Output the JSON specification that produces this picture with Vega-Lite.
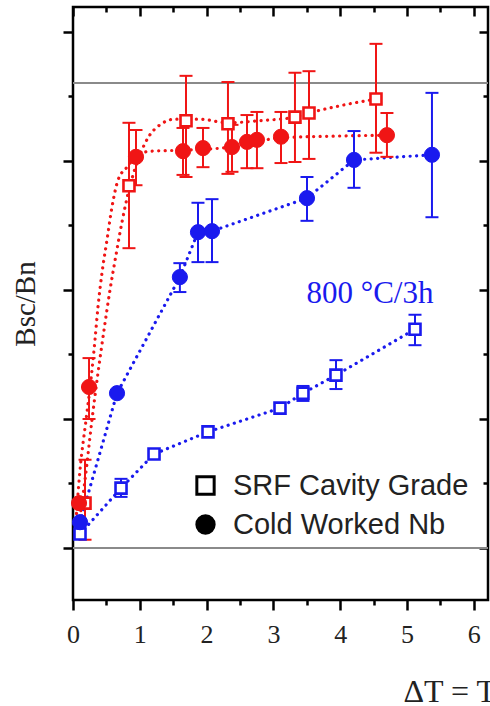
{
  "$schema": "https://vega.github.io/schema/vega-lite/v6.json",
  "width": 415,
  "height": 593,
  "autosize": {"type": "none"},
  "padding": {"left": 73, "top": 7, "right": 2, "bottom": 106},
  "background": "white",
  "config": {
    "view": {"stroke": "black", "strokeWidth": 2.5},
    "axis": {"grid": false, "domain": false, "tickColor": "black", "tickWidth": 2.5}
  },
  "datasets": {
    "pts": [
      {"t": 0.18, "r": 0.087, "lo": 0.016, "hi": 0.171, "grade": "SRF Cavity Grade", "treat": "as received"},
      {"t": 0.838, "r": 0.702, "lo": 0.581, "hi": 0.824, "grade": "SRF Cavity Grade", "treat": "as received"},
      {"t": 1.692, "r": 0.828, "lo": 0.719, "hi": 0.915, "grade": "SRF Cavity Grade", "treat": "as received"},
      {"t": 2.32, "r": 0.822, "lo": 0.725, "hi": 0.903, "grade": "SRF Cavity Grade", "treat": "as received"},
      {"t": 3.323, "r": 0.835, "lo": 0.748, "hi": 0.921, "grade": "SRF Cavity Grade", "treat": "as received"},
      {"t": 3.533, "r": 0.843, "lo": 0.754, "hi": 0.924, "grade": "SRF Cavity Grade", "treat": "as received"},
      {"t": 4.536, "r": 0.87, "lo": 0.766, "hi": 0.977, "grade": "SRF Cavity Grade", "treat": "as received"},
      {"t": 0.09, "r": 0.087, "grade": "Cold Worked Nb", "treat": "as received"},
      {"t": 0.24, "r": 0.312, "lo": 0.25, "hi": 0.368, "grade": "Cold Worked Nb", "treat": "as received"},
      {"t": 0.943, "r": 0.758, "lo": 0.703, "hi": 0.81, "grade": "Cold Worked Nb", "treat": "as received"},
      {"t": 1.647, "r": 0.769, "lo": 0.723, "hi": 0.814, "grade": "Cold Worked Nb", "treat": "as received"},
      {"t": 1.946, "r": 0.775, "lo": 0.738, "hi": 0.814, "grade": "Cold Worked Nb", "treat": "as received"},
      {"t": 2.38, "r": 0.777, "lo": 0.729, "hi": 0.82, "grade": "Cold Worked Nb", "treat": "as received"},
      {"t": 2.605, "r": 0.787, "lo": 0.736, "hi": 0.839, "grade": "Cold Worked Nb", "treat": "as received"},
      {"t": 2.754, "r": 0.791, "lo": 0.736, "hi": 0.845, "grade": "Cold Worked Nb", "treat": "as received"},
      {"t": 3.114, "r": 0.797, "lo": 0.746, "hi": 0.845, "grade": "Cold Worked Nb", "treat": "as received"},
      {"t": 4.7, "r": 0.8, "lo": 0.758, "hi": 0.843, "grade": "Cold Worked Nb", "treat": "as received"},
      {"t": 0.105, "r": 0.05, "grade": "Cold Worked Nb", "treat": "800 °C/3h"},
      {"t": 0.659, "r": 0.3, "grade": "Cold Worked Nb", "treat": "800 °C/3h"},
      {"t": 1.6, "r": 0.525, "lo": 0.496, "hi": 0.552, "grade": "Cold Worked Nb", "treat": "800 °C/3h"},
      {"t": 1.871, "r": 0.612, "lo": 0.554, "hi": 0.669, "grade": "Cold Worked Nb", "treat": "800 °C/3h"},
      {"t": 2.081, "r": 0.614, "lo": 0.554, "hi": 0.676, "grade": "Cold Worked Nb", "treat": "800 °C/3h"},
      {"t": 3.503, "r": 0.678, "lo": 0.634, "hi": 0.719, "grade": "Cold Worked Nb", "treat": "800 °C/3h"},
      {"t": 4.207, "r": 0.752, "lo": 0.698, "hi": 0.808, "grade": "Cold Worked Nb", "treat": "800 °C/3h"},
      {"t": 5.374, "r": 0.762, "lo": 0.641, "hi": 0.882, "grade": "Cold Worked Nb", "treat": "800 °C/3h"},
      {"t": 0.105, "r": 0.027, "grade": "SRF Cavity Grade", "treat": "800 °C/3h"},
      {"t": 0.719, "r": 0.116, "lo": 0.099, "hi": 0.134, "grade": "SRF Cavity Grade", "treat": "800 °C/3h"},
      {"t": 1.213, "r": 0.182, "grade": "SRF Cavity Grade", "treat": "800 °C/3h"},
      {"t": 2.021, "r": 0.225, "grade": "SRF Cavity Grade", "treat": "800 °C/3h"},
      {"t": 3.099, "r": 0.271, "grade": "SRF Cavity Grade", "treat": "800 °C/3h"},
      {"t": 3.443, "r": 0.3, "lo": 0.285, "hi": 0.314, "grade": "SRF Cavity Grade", "treat": "800 °C/3h"},
      {"t": 3.937, "r": 0.335, "lo": 0.308, "hi": 0.364, "grade": "SRF Cavity Grade", "treat": "800 °C/3h"},
      {"t": 5.12, "r": 0.424, "lo": 0.393, "hi": 0.452, "grade": "SRF Cavity Grade", "treat": "800 °C/3h"}
    ],
    "fits": [
      {"t": 0.045, "r": 0.054, "fit": "Cold Worked Nb"},
      {"t": 0.105, "r": 0.151, "fit": "Cold Worked Nb"},
      {"t": 0.195, "r": 0.248, "fit": "Cold Worked Nb"},
      {"t": 0.269, "r": 0.326, "fit": "Cold Worked Nb"},
      {"t": 0.329, "r": 0.403, "fit": "Cold Worked Nb"},
      {"t": 0.374, "r": 0.467, "fit": "Cold Worked Nb"},
      {"t": 0.434, "r": 0.533, "fit": "Cold Worked Nb"},
      {"t": 0.509, "r": 0.597, "fit": "Cold Worked Nb"},
      {"t": 0.584, "r": 0.661, "fit": "Cold Worked Nb"},
      {"t": 0.674, "r": 0.713, "fit": "Cold Worked Nb"},
      {"t": 0.808, "r": 0.738, "fit": "Cold Worked Nb"},
      {"t": 0.943, "r": 0.758, "fit": "Cold Worked Nb"},
      {"t": 1.153, "r": 0.769, "fit": "Cold Worked Nb"},
      {"t": 1.647, "r": 0.771, "fit": "Cold Worked Nb"},
      {"t": 2.38, "r": 0.777, "fit": "Cold Worked Nb"},
      {"t": 3.114, "r": 0.795, "fit": "Cold Worked Nb"},
      {"t": 3.847, "r": 0.798, "fit": "Cold Worked Nb"},
      {"t": 4.7, "r": 0.8, "fit": "Cold Worked Nb"},
      {"t": 0.075, "r": 0.035, "fit": "SRF Cavity Grade"},
      {"t": 0.18, "r": 0.132, "fit": "SRF Cavity Grade"},
      {"t": 0.284, "r": 0.248, "fit": "SRF Cavity Grade"},
      {"t": 0.374, "r": 0.339, "fit": "SRF Cavity Grade"},
      {"t": 0.464, "r": 0.422, "fit": "SRF Cavity Grade"},
      {"t": 0.554, "r": 0.5, "fit": "SRF Cavity Grade"},
      {"t": 0.644, "r": 0.568, "fit": "SRF Cavity Grade"},
      {"t": 0.734, "r": 0.632, "fit": "SRF Cavity Grade"},
      {"t": 0.838, "r": 0.694, "fit": "SRF Cavity Grade"},
      {"t": 0.973, "r": 0.752, "fit": "SRF Cavity Grade"},
      {"t": 1.123, "r": 0.795, "fit": "SRF Cavity Grade"},
      {"t": 1.302, "r": 0.82, "fit": "SRF Cavity Grade"},
      {"t": 1.527, "r": 0.831, "fit": "SRF Cavity Grade"},
      {"t": 1.901, "r": 0.831, "fit": "SRF Cavity Grade"},
      {"t": 2.32, "r": 0.824, "fit": "SRF Cavity Grade"},
      {"t": 2.799, "r": 0.828, "fit": "SRF Cavity Grade"},
      {"t": 3.323, "r": 0.835, "fit": "SRF Cavity Grade"},
      {"t": 3.533, "r": 0.843, "fit": "SRF Cavity Grade"},
      {"t": 3.997, "r": 0.857, "fit": "SRF Cavity Grade"},
      {"t": 4.536, "r": 0.87, "fit": "SRF Cavity Grade"}
    ]
  },
  "resolve": {"axis": {"x": "independent", "y": "independent"}},
  "layer": [
    {
      "data": {"values": [{"level": 0}, {"level": 0.9012}]},
      "mark": {"type": "rule", "color": "#8a8a8a", "strokeWidth": 2},
      "encoding": {
        "y": {
          "field": "level", "type": "quantitative",
          "scale": {"domain": [-0.1008, 1.0484], "nice": false, "zero": false},
          "axis": {
            "orient": "left",
            "values": [0, 0.125, 0.25, 0.375, 0.5, 0.625, 0.75, 0.875, 1.0],
            "labels": false,
            "tickSize": {"condition": {"test": "datum.value * 4 % 1 === 0", "value": 10}, "value": 5},
            "title": "Bsc/Bn",
            "titleFont": "Liberation Serif",
            "titleFontSize": 29,
            "titleFontWeight": "normal",
            "titleColor": "#222222",
            "titlePadding": 21
          }
        }
      }
    },
    {
      "data": {"name": "fits"},
      "mark": {"type": "line", "color": "#f01515", "strokeWidth": 3.2, "strokeDash": [0.1, 6.4], "strokeCap": "round", "interpolate": "monotone"},
      "encoding": {
        "x": {
          "field": "t", "type": "quantitative",
          "scale": {"domain": [0, 6.213], "nice": false, "zero": false},
          "axis": {
            "orient": "bottom",
            "values": [0, 0.5, 1, 1.5, 2, 2.5, 3, 3.5, 4, 4.5, 5, 5.5, 6],
            "tickSize": {"condition": {"test": "datum.value % 1 === 0", "value": 10}, "value": 5},
            "labelExpr": "datum.value % 1 === 0 ? format(datum.value, 'd') : ''",
            "labelFont": "Liberation Serif",
            "labelFontSize": 26,
            "labelColor": "#222222",
            "labelPadding": 11,
            "labelFlush": false,
            "labelOverlap": false,
            "title": "ΔT = Tc − T (K)",
            "titleFont": "Liberation Serif",
            "titleFontSize": 32,
            "titleFontWeight": "normal",
            "titleColor": "#222222",
            "titleAnchor": "start",
            "titleAlign": "left",
            "titleX": 330,
            "titleY": 101,
            "titleBaseline": "alphabetic"
          }
        },
        "y": {"field": "r", "type": "quantitative", "scale": {"domain": [-0.1008, 1.0484], "nice": false, "zero": false}, "axis": null},
        "detail": {"field": "fit", "type": "nominal"}
      }
    },
    {
      "data": {"name": "pts"},
      "transform": [{"filter": "datum.treat === '800 °C/3h'"}],
      "mark": {"type": "line", "color": "#1a1aee", "strokeWidth": 3.2, "strokeDash": [0.1, 6.4], "strokeCap": "round"},
      "encoding": {
        "x": {
          "field": "t", "type": "quantitative",
          "scale": {"domain": [0, 6.213], "nice": false, "zero": false},
          "axis": {
            "orient": "top",
            "values": [0, 0.5, 1, 1.5, 2, 2.5, 3, 3.5, 4, 4.5, 5, 5.5, 6],
            "labels": false,
            "tickSize": {"condition": {"test": "datum.value % 1 === 0", "value": -9}, "value": -5},
            "title": null
          }
        },
        "y": {
          "field": "r", "type": "quantitative",
          "scale": {"domain": [-0.1008, 1.0484], "nice": false, "zero": false},
          "axis": {
            "orient": "right",
            "values": [0, 0.125, 0.25, 0.375, 0.5, 0.625, 0.75, 0.875, 1.0],
            "labels": false,
            "tickSize": {"condition": {"test": "datum.value * 4 % 1 === 0", "value": -9}, "value": -5},
            "title": null
          }
        },
        "detail": {"field": "grade", "type": "nominal"}
      }
    },
    {
      "data": {"name": "pts"},
      "transform": [{"filter": "isValid(datum.lo)"}],
      "mark": {"type": "rule", "strokeWidth": 2},
      "encoding": {
        "x": {"field": "t", "type": "quantitative", "axis": null},
        "y": {"field": "lo", "type": "quantitative", "axis": null},
        "y2": {"field": "hi"},
        "stroke": {"field": "treat", "type": "nominal", "scale": {"domain": ["as received", "800 °C/3h"], "range": ["#f01515", "#1a1aee"]}, "legend": null}
      }
    },
    {
      "data": {"name": "pts"},
      "transform": [{"filter": "isValid(datum.lo)"}],
      "mark": {"type": "tick", "orient": "horizontal", "size": 13, "thickness": 2, "opacity": 1},
      "encoding": {
        "x": {"field": "t", "type": "quantitative", "axis": null},
        "y": {"field": "lo", "type": "quantitative", "axis": null},
        "color": {"field": "treat", "type": "nominal", "scale": {"domain": ["as received", "800 °C/3h"], "range": ["#f01515", "#1a1aee"]}, "legend": null}
      }
    },
    {
      "data": {"name": "pts"},
      "transform": [{"filter": "isValid(datum.hi)"}],
      "mark": {"type": "tick", "orient": "horizontal", "size": 13, "thickness": 2, "opacity": 1},
      "encoding": {
        "x": {"field": "t", "type": "quantitative", "axis": null},
        "y": {"field": "hi", "type": "quantitative", "axis": null},
        "color": {"field": "treat", "type": "nominal", "scale": {"domain": ["as received", "800 °C/3h"], "range": ["#f01515", "#1a1aee"]}, "legend": null}
      }
    },
    {
      "data": {"name": "pts"},
      "transform": [{"filter": "datum.grade === 'SRF Cavity Grade'"}],
      "mark": {"type": "point", "shape": "square", "fill": "white", "size": 121, "strokeWidth": 2.6, "opacity": 1},
      "encoding": {
        "x": {"field": "t", "type": "quantitative", "axis": null},
        "y": {"field": "r", "type": "quantitative", "axis": null},
        "stroke": {"field": "treat", "type": "nominal", "scale": {"domain": ["as received", "800 °C/3h"], "range": ["#f01515", "#1a1aee"]}, "legend": null}
      }
    },
    {
      "data": {"name": "pts"},
      "transform": [{"filter": "datum.grade === 'Cold Worked Nb'"}],
      "mark": {"type": "point", "filled": true, "size": 230, "strokeWidth": 1, "opacity": 1},
      "encoding": {
        "x": {"field": "t", "type": "quantitative", "axis": null},
        "y": {"field": "r", "type": "quantitative", "axis": null},
        "fill": {"field": "treat", "type": "nominal", "scale": {"domain": ["as received", "800 °C/3h"], "range": ["#f01515", "#1a1aee"]}, "legend": null},
        "stroke": {"field": "treat", "type": "nominal", "scale": {"domain": ["as received", "800 °C/3h"], "range": ["#f01515", "#1a1aee"]}, "legend": null},
        "shape": {
          "field": "grade", "type": "nominal",
          "scale": {"domain": ["SRF Cavity Grade", "Cold Worked Nb"], "range": ["square", "circle"]},
          "legend": {
            "orient": "none",
            "legendX": 118,
            "legendY": 464,
            "title": null,
            "padding": 0,
            "symbolSize": 300,
            "symbolStrokeWidth": 3,
            "symbolStrokeColor": "black",
            "symbolFillColor": {"expr": "datum.value === 'SRF Cavity Grade' ? 'white' : 'black'"},
            "symbolOpacity": 1,
            "labelFont": "Liberation Sans",
            "labelFontSize": 29,
            "labelColor": "#222222",
            "labelLimit": 0,
            "labelOffset": 13,
            "rowPadding": 8
          }
        }
      }
    },
    {
      "data": {"values": [{"label": "800 °C/3h"}]},
      "mark": {"type": "text", "font": "Liberation Serif", "fontSize": 31, "color": "#1a1aee", "align": "center", "baseline": "alphabetic"},
      "encoding": {
        "x": {"datum": 4.446, "type": "quantitative", "axis": null},
        "y": {"datum": 0.475, "type": "quantitative", "axis": null},
        "text": {"field": "label", "type": "nominal"}
      }
    }
  ]
}
